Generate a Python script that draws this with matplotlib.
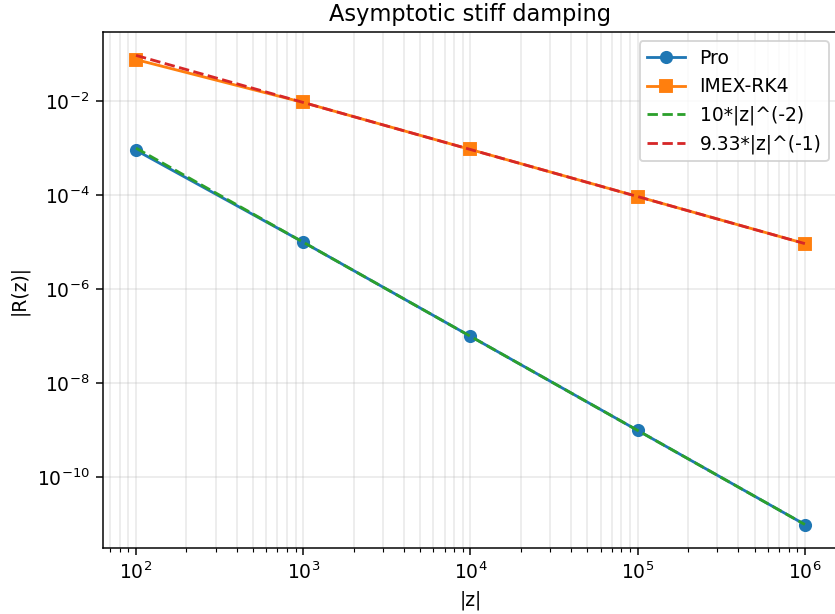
import matplotlib
matplotlib.use("Agg")
import matplotlib.pyplot as plt
import numpy as np

# data
z = np.array([1e2, 1e3, 1e4, 1e5, 1e6])
r_pro = np.array([9.0e-4, 1e-5, 1e-7, 1e-9, 1e-11])
r_imex = np.array([7.6e-2, 9.33e-3, 9.33e-4, 9.33e-5, 9.33e-6])
ref2 = 10 * z**-2.0
ref1 = 9.33 * z**-1.0

dpi = 135
fig, ax = plt.subplots(figsize=(835 / dpi, 614 / dpi), dpi=dpi)
fig.subplots_adjust(left=0.1228, right=1.004, top=0.948, bottom=0.1075)

ax.loglog(z, r_pro, marker='o', label='Pro')
ax.loglog(z, r_imex, marker='s', label='IMEX-RK4')
ax.loglog(z, ref2, '--', label='10*|z|^(-2)')
ax.loglog(z, ref1, '--', label='9.33*|z|^(-1)')

ax.grid(True, which='both', alpha=0.3)
ax.set_xlabel('|z|')
ax.set_ylabel('|R(z)|')
ax.set_title('Asymptotic stiff damping')
ax.legend()

fig.savefig('out.png', dpi=dpi)
